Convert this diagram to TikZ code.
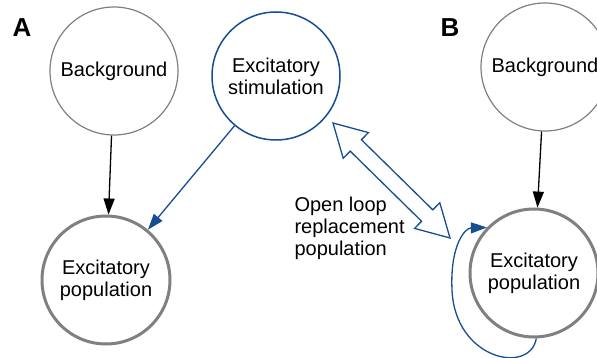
\documentclass[tikz,border=0pt]{standalone}
\usepackage{fontspec}
\setmainfont{Liberation Sans}
\usepackage{tikz}
\usetikzlibrary{arrows.meta,calc}
\definecolor{ploblue}{RGB}{22,78,145}
\definecolor{plogray}{RGB}{128,128,128}

\begin{document}
\begin{tikzpicture}[x=1pt, y=-1pt, font=\fontsize{20}{22}\selectfont]
\tikzstyle{every state}=[circle, inner sep=0pt, minimum size=128pt, align=center, fill=white]
\tikzstyle{bg}=[every state, draw=plogray, line width=1.2pt]
\tikzstyle{pop}=[every state, draw=plogray, line width=3pt]
\tikzstyle{stim}=[every state, draw=ploblue, line width=1.5pt]
\tikzstyle{tri}=[-{Triangle[length=16pt,width=11pt]}, line width=1.3pt]
\useasboundingbox (0,0) rectangle (597,358);

% panel A
\node[font=\fontsize{26}{30}\selectfont\bfseries] (la) at (22,28) {A};
\node[bg]   (bga) at (114,71)  {Background};
\node[pop]  (exa) at (106,280) {Excitatory\\population};
\node[stim] (sti) at (276,76)  {Excitatory\\stimulation};

% panel B
\node[font=\fontsize{26}{30}\selectfont\bfseries] (lb) at (450,28) {B};
\node[bg]   (bgb) at (545,67)  {Background};
\node[pop]  (exb) at (534,273) {Excitatory\\population};

\node[anchor=west, align=left] (olr) at (291,228) {Open loop\\replacement\\population};

\path[tri, black]   (bga) edge (exa);
\path[tri, ploblue] (sti) edge (exa);
\path[tri, black]   (bgb) edge (exb);

% self loop of the replaced population
\draw[tri, ploblue] (exb.-88) .. controls (530,375) and (455,360) .. (452,290)
                    .. controls (450,245) and (465,228) .. (exb.136);

% open loop double arrow
\coordinate (dba) at (333,123);
\coordinate (dbb) at (450,238);
\coordinate (ha) at ($(dba)!32pt!(dbb)$);
\coordinate (hb) at ($(dbb)!32pt!(dba)$);
\draw[ploblue, line width=1.3pt, fill=white, line join=miter] (dba)
  -- ($(ha)!18pt!90:(dbb)$) -- ($(ha)!8pt!90:(dbb)$)
  -- ($(hb)!8pt!-90:(dba)$) -- ($(hb)!18pt!-90:(dba)$)
  -- (dbb)
  -- ($(hb)!18pt!90:(dba)$) -- ($(hb)!8pt!90:(dba)$)
  -- ($(ha)!8pt!-90:(dbb)$) -- ($(ha)!18pt!-90:(dbb)$)
  -- cycle;
\end{tikzpicture}
\end{document}
